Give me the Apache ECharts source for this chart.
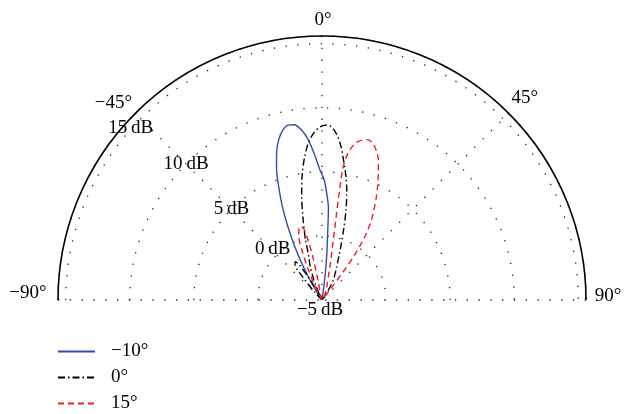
<!DOCTYPE html>
<html>
<head>
<meta charset="utf-8">
<script src="https://cdn.jsdelivr.net/npm/echarts@6/dist/echarts.min.js"></script>
<style>
html,body{margin:0;padding:0;background:#fff;}
#chart{width:624px;height:414px;}
</style>
</head>
<body>
<div id="chart"></div>
<script>
// ---- data (angle in degrees, gain in dB, clipped at -5 dB) ----
const seriesNames = ['\u221210\u00b0', '0\u00b0', '15\u00b0'];

const blueAngles = [-90, -40, -35, -33, -31, -29, -27, -25, -23, -21, -19, -17, -15, -13, -11, -9, -7, -5, -3, -1, 1, 3, 4, 5, 6, 7, 8, 9, 90];
const blueDb     = [-5, -5, -4.6, -4.3, -3.2, -1.8, -0.3, 1.3, 2.9, 4.4, 5.9, 7.1, 8.0, 8.6, 8.9, 8.85, 8.4, 7.6, 6.4, 5.2, 4.4, 3.0, 2.2, -0.1, -1.4, -2.8, -4.2, -5, -5];

const blackAngles = [-90, -46, -43, -40, -37, -35, -33, -31, -29, -27, -25, -23, -21, -19, -17, -15, -13, -11, -9, -7, -5, -3, -1, 1, 3, 5, 7, 9, 11, 13, 15, 17, 19, 21, 24, 27, 30, 33, 36, 90];
const blackDb     = [-5, -5, -4.2, -2.6, -1.5, -1.35, -1.7, -2.9, -4.3, -5, -4.6, -3.7, -2.9, -2.1, -1.5, 0.1, 1.6, 3.3, 4.9, 6.2, 7.3, 8.0, 8.45, 8.65, 8.55, 8.0, 7.1, 5.9, 4.8, 3.6, 2.2, 0.8, -0.4, -1.3, -2.2, -2.8, -3.3, -4.2, -5, -5];

const redAngles = [-90, -28, -26, -24, -22, -20, -18, -16, -14, -13, -12, -11.5, -11, 8.5, 9, 10, 12, 14.5, 16, 18, 20, 22, 24, 26, 28, 30, 32, 34, 35, 36, 37, 38, 39, 90];
const redDb     = [-5, -5, -3.6, -2.2, -0.9, 0.3, 0.85, 0.97, 0.6, -0.3, -1.6, -3.5, -5, -5, 5.3, 6.6, 7.5, 7.9, 8.0, 7.85, 7.4, 6.75, 5.8, 4.9, 4.0, 3.1, 2.2, 1.0, 0.2, -0.8, -2.3, -4.0, -5, -5];

const ringValues = [-5, 0, 5, 10, 15];          // dB rings
const angleTicks = [-90, -45, 0, 45, 90];       // degree labels

// ---- chart ----
const FONT = 'Liberation Serif';
const R_MIN = -5, R_MAX = 15.6;
const fmtMinus = v => String(v).replace('-', '\u2212');
const toPolar = (angles, db) => angles.map((a, i) => [db[i], a]);

const ringOffsets = { '15': [-10, 9], '-5': [-2, 10], '0': [-4, -6] };
const ringLabelData = ringValues.map(v => {
  const item = { value: [v, -45] };
  if (ringOffsets[v]) item.label = { offset: ringOffsets[v] };
  return item;
});

const angleOffsets = { '-90': [-30, -6.5], '-45': [-22, -10], '0': [1, -16], '45': [16, -15], '90': [22, -4] };
const angleLabelData = angleTicks.map(a => ({ value: [R_MAX, a], label: { offset: angleOffsets[a] } }));

const dotted = { color: '#222', width: 1.3, type: [1.3, 10.5] };
const labelText = { show: true, position: 'inside', color: '#000', fontFamily: FONT, fontSize: 19 };

const option = {
  animation: false,
  backgroundColor: '#fff',
  polar: { center: [322, 300], radius: 264 },
  angleAxis: {
    type: 'value',
    min: -90, max: 90, interval: 45,
    startAngle: 180, endAngle: 0, clockwise: true,
    axisLine: { show: true, lineStyle: { color: '#000', width: 1.6 } },
    axisTick: { show: false },
    axisLabel: { show: false },
    splitLine: { show: true, lineStyle: dotted }
  },
  radiusAxis: {
    type: 'value',
    min: R_MIN, max: R_MAX, interval: 5,
    axisLine: { show: false },
    axisTick: { show: false },
    axisLabel: { show: false },
    splitLine: { show: true, lineStyle: dotted }
  },
  legend: {
    orient: 'vertical', left: 57, top: 342, height: 120, padding: 0,
    itemWidth: 37, itemHeight: 14, itemGap: 7,
    data: seriesNames,
    itemStyle: { opacity: 0 },
    textStyle: { fontFamily: FONT, fontSize: 19, color: '#000', padding: [0, 0, 0, 11] }
  },
  series: [
    {
      name: seriesNames[0], type: 'line', coordinateSystem: 'polar',
      data: toPolar(blueAngles, blueDb), symbol: 'none', smooth: 0.3,
      lineStyle: { color: '#2f4fa6', width: 1.4, type: 'solid' },
      itemStyle: { color: '#2f4fa6' }, z: 5
    },
    {
      name: seriesNames[1], type: 'line', coordinateSystem: 'polar',
      data: toPolar(blackAngles, blackDb), symbol: 'none', smooth: 0.3,
      lineStyle: { color: '#000', width: 1.4, type: [7, 3, 1.5, 3] },
      itemStyle: { color: '#000' }, z: 5
    },
    {
      name: seriesNames[2], type: 'line', coordinateSystem: 'polar',
      data: toPolar(redAngles, redDb), symbol: 'none', smooth: 0.3,
      lineStyle: { color: '#ee1c25', width: 1.4, type: [6, 4] },
      itemStyle: { color: '#ee1c25' }, z: 5
    },
    {
      type: 'scatter', coordinateSystem: 'polar', symbolSize: 0, silent: true,
      itemStyle: { opacity: 1 },
      data: ringLabelData, z: 6,
      label: Object.assign({}, labelText, { formatter: p => fmtMinus(p.value[0]) + '\u2009dB' })
    },
    {
      type: 'scatter', coordinateSystem: 'polar', symbolSize: 0, silent: true,
      itemStyle: { opacity: 1 },
      data: angleLabelData, z: 6,
      label: Object.assign({}, labelText, { formatter: p => fmtMinus(p.value[1]) + '\u00b0' })
    }
  ]
};

const chart = echarts.init(document.getElementById('chart'), null, { renderer: 'canvas' });
chart.setOption(option);
</script>
</body>
</html>
